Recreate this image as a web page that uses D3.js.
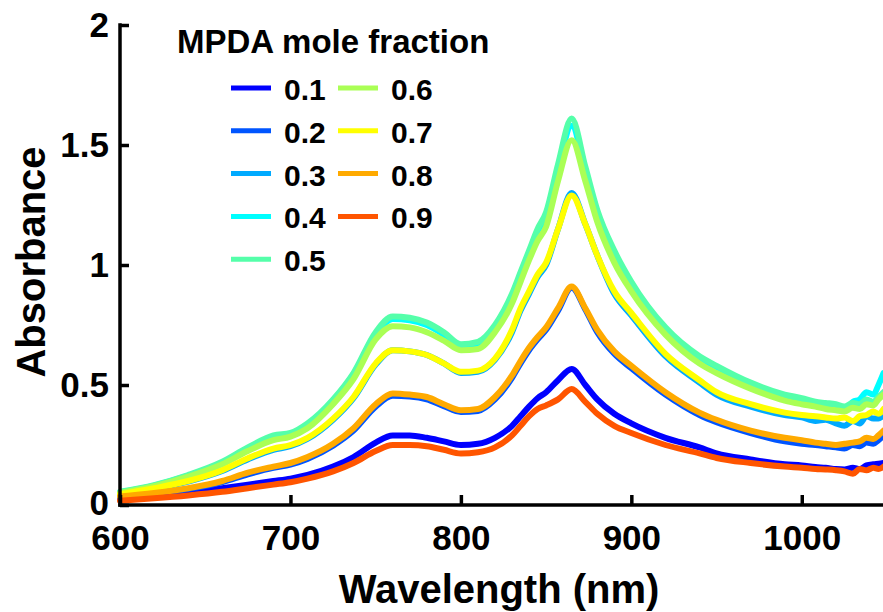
<!DOCTYPE html>
<html>
<head>
<meta charset="utf-8">
<script src="https://cdn.jsdelivr.net/npm/d3@7"></script>
<style>
  html, body { margin: 0; padding: 0; background: #fff; }
  svg { display: block; font-family: "Liberation Sans", Arial, Helvetica, sans-serif; font-weight: bold; }
</style>
</head>
<body>
<svg id="chart" width="883" height="612"></svg>
<script>
// Wavelength grid (nm) shared by all spectra
const wavelengths = [600,620,640,660,675,690,700,710,725,737,750,760,770,780,790,800,810,820,830,835,840,845,850,857,865,873,880,890,900,920,940,950,970,990,1000,1008,1014,1020,1025,1030,1034,1038,1042,1045,1048];

// Absorbance spectra, one per MPDA mole fraction
const abs01 = [0.025,0.035,0.05,0.07,0.085,0.10,0.11,0.125,0.16,0.20,0.26,0.29,0.29,0.28,0.265,0.25,0.255,0.28,0.33,0.37,0.41,0.445,0.47,0.52,0.567,0.50,0.44,0.38,0.34,0.28,0.24,0.215,0.19,0.17,0.165,0.158,0.155,0.15,0.148,0.155,0.15,0.165,0.17,0.172,0.175];
const abs02 = [0.032,0.047,0.066,0.095,0.128,0.155,0.168,0.192,0.247,0.31,0.41,0.455,0.452,0.44,0.412,0.388,0.392,0.44,0.53,0.59,0.645,0.69,0.73,0.81,0.905,0.815,0.72,0.63,0.57,0.46,0.375,0.345,0.30,0.265,0.255,0.25,0.245,0.24,0.235,0.25,0.245,0.26,0.255,0.27,0.29];
const abs03 = [0.043,0.068,0.098,0.142,0.19,0.23,0.245,0.275,0.355,0.445,0.585,0.645,0.64,0.625,0.59,0.55,0.555,0.605,0.72,0.81,0.88,0.95,1.00,1.15,1.30,1.17,1.04,0.88,0.79,0.62,0.51,0.46,0.41,0.375,0.365,0.35,0.355,0.34,0.33,0.35,0.34,0.37,0.36,0.36,0.375];
const abs04 = [0.053,0.081,0.122,0.176,0.235,0.285,0.297,0.335,0.435,0.545,0.71,0.775,0.77,0.75,0.71,0.66,0.67,0.74,0.87,0.96,1.05,1.14,1.21,1.40,1.58,1.39,1.22,1.05,0.92,0.735,0.615,0.575,0.505,0.455,0.44,0.425,0.42,0.415,0.40,0.43,0.44,0.47,0.46,0.50,0.55];
const abs05 = [0.055,0.083,0.125,0.18,0.24,0.29,0.30,0.34,0.44,0.55,0.72,0.785,0.78,0.76,0.72,0.67,0.68,0.75,0.88,0.97,1.06,1.15,1.22,1.42,1.61,1.41,1.23,1.06,0.93,0.74,0.62,0.58,0.51,0.46,0.445,0.43,0.425,0.42,0.41,0.425,0.42,0.44,0.43,0.45,0.47];
const abs06 = [0.05,0.078,0.118,0.17,0.225,0.27,0.285,0.32,0.42,0.525,0.69,0.745,0.74,0.72,0.685,0.645,0.65,0.72,0.84,0.93,1.02,1.10,1.16,1.35,1.52,1.35,1.18,1.01,0.89,0.71,0.59,0.55,0.485,0.435,0.42,0.41,0.40,0.395,0.39,0.405,0.40,0.42,0.415,0.44,0.46];
const abs07 = [0.045,0.07,0.10,0.145,0.195,0.235,0.25,0.28,0.36,0.45,0.59,0.645,0.64,0.625,0.59,0.555,0.56,0.61,0.73,0.82,0.89,0.96,1.01,1.15,1.29,1.17,1.04,0.89,0.80,0.63,0.52,0.47,0.42,0.385,0.375,0.37,0.365,0.36,0.365,0.35,0.37,0.375,0.39,0.38,0.40];
const abs08 = [0.035,0.05,0.07,0.10,0.135,0.16,0.175,0.20,0.255,0.32,0.42,0.465,0.46,0.45,0.42,0.395,0.40,0.45,0.54,0.60,0.655,0.70,0.74,0.82,0.91,0.82,0.73,0.64,0.58,0.47,0.385,0.355,0.31,0.28,0.27,0.26,0.255,0.25,0.255,0.26,0.265,0.28,0.275,0.29,0.31];
const abs09 = [0.018,0.028,0.04,0.055,0.07,0.085,0.095,0.11,0.14,0.175,0.225,0.25,0.25,0.245,0.23,0.215,0.22,0.24,0.29,0.33,0.37,0.40,0.415,0.44,0.483,0.43,0.38,0.33,0.30,0.25,0.215,0.196,0.175,0.16,0.155,0.15,0.148,0.145,0.14,0.13,0.15,0.145,0.155,0.15,0.16];

const fractions = ["0.1","0.2","0.3","0.4","0.5","0.6","0.7","0.8","0.9"];
const colors = ["#0000ff","#0055ff","#00aaff","#00ffff","#55ffaa","#aaff55","#ffff00","#ffaa00","#ff5500"];
const seriesValues = [abs01,abs02,abs03,abs04,abs05,abs06,abs07,abs08,abs09];

const xTicks = [600,700,800,900,1000];
const yTicks = [0,0.5,1,1.5,2];

const svg = d3.select("#chart");

const x = d3.scaleLinear().domain([600, 1050]).range([120, 887]);
const y = d3.scaleLinear().domain([0, 2]).range([505, 25]);

// Spectra
const line = d3.line()
  .x(d => x(d[0]))
  .y(d => y(d[1]))
  .curve(d3.curveMonotoneX);

const curves = svg.append("g");
seriesValues.forEach((vals, i) => {
  curves.append("path")
    .datum(wavelengths.map((w, j) => [w, vals[j]]))
    .attr("d", line)
    .attr("fill", "none")
    .attr("stroke", colors[i])
    .attr("stroke-width", 6)
    .attr("stroke-linejoin", "round")
    .attr("stroke-linecap", "round");
});

// Axes, ticks pointing inward
const xAxis = svg.append("g")
  .attr("transform", `translate(0,${y(0)})`)
  .call(d3.axisBottom(x).tickValues(xTicks).tickSize(-10).tickPadding(20).tickFormat(d3.format("d")));
const yAxis = svg.append("g")
  .attr("transform", `translate(${x(600)},0)`)
  .call(d3.axisLeft(y).tickValues(yTicks).tickSize(-9).tickPadding(11).tickFormat(d => String(d)));

[xAxis, yAxis].forEach(g => {
  g.select(".domain").attr("stroke", "#000").attr("stroke-width", 3.5);
  g.selectAll(".tick line").attr("stroke", "#000").attr("stroke-width", 3.5);
  g.selectAll(".tick text")
    .attr("fill", "#000")
    .style("font-family", "'Liberation Sans', Arial, sans-serif")
    .style("font-weight", "bold")
    .style("font-size", "35px");
});
// extend the x axis line to the right edge
xAxis.select(".domain").attr("d", `M${x(600) - 1.75},0H887`);
yAxis.select(".domain").attr("d", `M0,${y(0) + 1.75}V${y(2) - 1.75}`);
// lift the zero label slightly so it clears the first wavelength label
yAxis.selectAll(".tick text").filter(d => d === 0).attr("dy", "0.28em");

// Axis titles
svg.append("text")
  .attr("x", 499).attr("y", 603)
  .attr("text-anchor", "middle")
  .style("font-size", "40px")
  .text("Wavelength (nm)");

svg.append("text")
  .attr("transform", "translate(45,262) rotate(-90)")
  .attr("text-anchor", "middle")
  .style("font-size", "40px")
  .text("Absorbance");

// Legend
const legend = svg.append("g");
legend.append("text")
  .attr("x", 177).attr("y", 53)
  .style("font-size", "33px")
  .text("MPDA mole fraction");

fractions.forEach((f, i) => {
  const col = i < 5 ? 0 : 1;
  const row = i < 5 ? i : i - 5;
  const lx = col === 0 ? 231 : 338;
  const baseline = 100 + row * 42.8;
  legend.append("line")
    .attr("x1", lx).attr("x2", lx + 40)
    .attr("y1", baseline - 12).attr("y2", baseline - 12)
    .attr("stroke", colors[i])
    .attr("stroke-width", 5);
  legend.append("text")
    .attr("x", lx + 53).attr("y", baseline)
    .style("font-size", "30px")
    .text(f);
});
</script>
</body>
</html>
